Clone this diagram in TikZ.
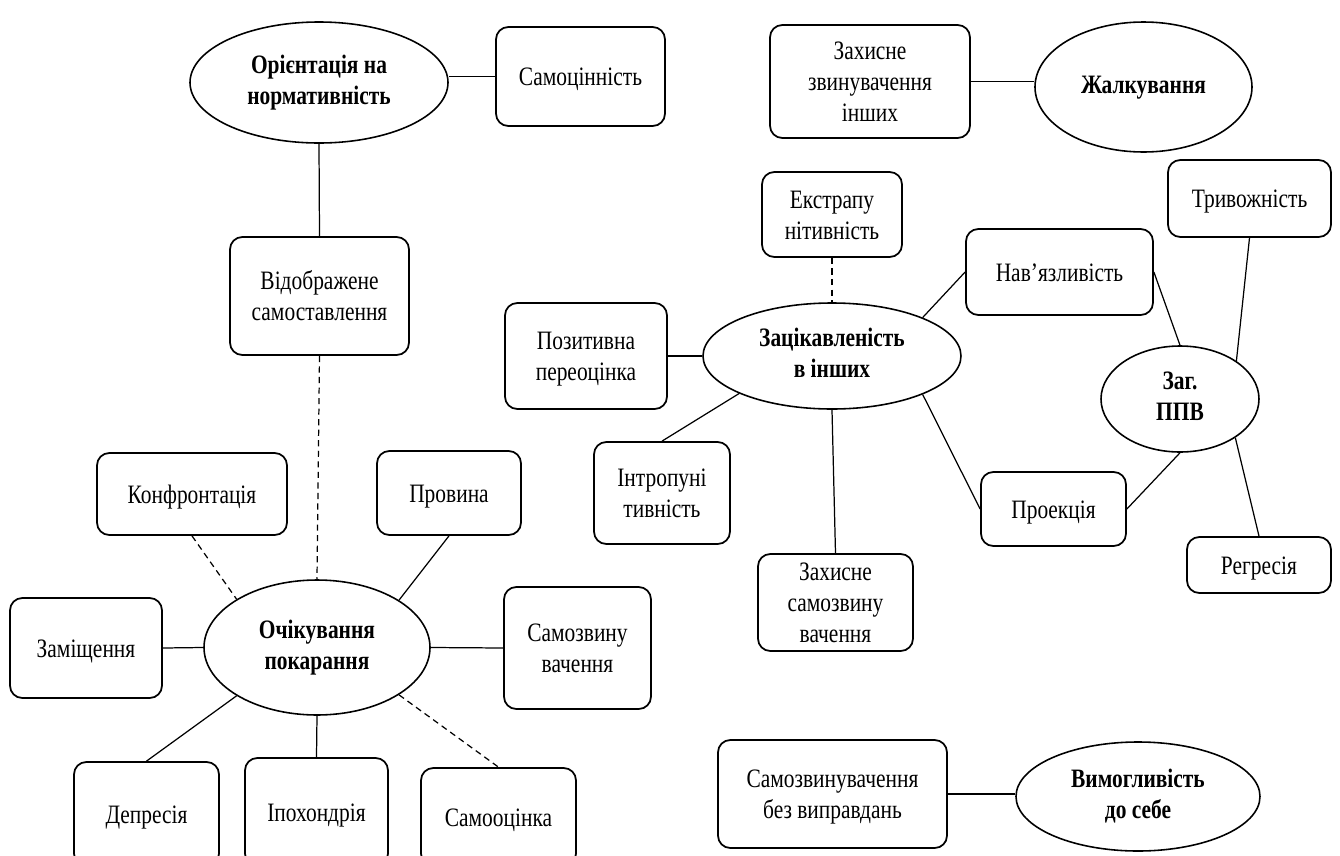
\documentclass[tikz,border=0pt]{standalone}
\usepackage{fontspec}
\setmainfont{Liberation Serif}
\usepackage{graphicx}
\usetikzlibrary{shapes.geometric}
\newcommand\tx[1]{\raisebox{-1.7pt}[\height][\depth]{\scalebox{1}[1.24]{\begin{tabular}{@{}c@{}}#1\end{tabular}}}}
\newcommand\txb[1]{\scalebox{1}[1.24]{\bfseries\begin{tabular}{@{}c@{}}#1\end{tabular}}}
\newcommand\bx[6]{\node[rbox, minimum width={(#4-#2)*0.02cm}, minimum height={(#5-#3)*0.02cm}] (#1) at ({(#2+#4)/2},{(#3+#5)/2}) {\tx{#6}};}
\newcommand\el[6]{\node[ell, minimum width={(#4-#2)*0.02cm}, minimum height={(#5-#3)*0.02cm}] (#1) at ({(#2+#4)/2},{(#3+#5)/2}) {\txb{#6}};}
\tikzset{
  rbox/.style={draw, rounded corners=7pt, line width=1pt, inner sep=0pt, font=\fontsize{12.2}{14.2}\selectfont},
  ell/.style={ellipse, draw, line width=0.9pt, inner sep=0pt, font=\fontsize{12.2}{14.2}\selectfont},
  link/.style={line width=0.7pt},
  dlink/.style={line width=0.7pt, dash pattern=on 3.5pt off 2.5pt}
}
\begin{document}
\begin{tikzpicture}[x=0.02cm, y=-0.02cm]
\useasboundingbox (0,0) rectangle (1340,856);
\clip (0,0) rectangle (1340,856);
% nodes
\el{or}{190}{22}{448}{143}{Орієнтація на\\нормативність}
\bx{samoc}{496}{27}{665}{126}{Самоцінність}
\bx{zz}{770}{25}{970}{138}{Захисне\\звинувачення\\інших}
\el{zh}{1035}{22}{1252}{152}{Жалкування}
\bx{vid}{230}{237}{409}{355}{Відображене\\самоставлення}
\bx{ek}{762}{172}{902}{257}{Екстрапу\\нітивність}
\bx{poz}{505}{303}{667}{409}{Позитивна\\переоцінка}
\el{zac}{703}{303}{961}{409}{Зацікавленість\\в інших}
\bx{nav}{966}{229}{1153}{315}{Нав’язливість}
\bx{trv}{1168}{160}{1331}{237}{Тривожність}
\el{ppv}{1101}{346}{1259}{452}{Заг.\\ППВ}
\bx{int}{594}{442}{730}{544}{Інтропуні\\тивність}
\bx{zs}{758}{554}{913}{651}{Захисне\\самозвину\\вачення}
\bx{proj}{981}{472}{1126}{546}{Проекція}
\bx{reg}{1187}{537}{1331}{593}{Регресія}
\bx{conf}{97}{453}{287}{535}{Конфронтація}
\bx{prov}{377}{451}{521}{535}{Провина}
\bx{zam}{10}{598}{162}{698}{Заміщення}
\el{och}{204}{580}{430}{715}{Очікування\\покарання}
\bx{szv}{504}{587}{651}{709}{Самозвину\\вачення}
\bx{dep}{74}{762}{219}{866}{Депресія}
\bx{ipo}{245}{758}{388}{866}{Іпохондрія}
\bx{som}{421}{768}{576}{866}{Самооцінка}
\bx{sz}{718}{740}{947}{848}{Самозвинувачення\\без виправдань}
\el{vm}{1016}{742}{1260}{851}{Вимогливість\\до себе}
% connectors
\draw[link] (samoc.west) -- (samoc.west -| or.east);
\draw[link] (zz.east) -- (zz.east -| zh.west);
\draw[link] (or.south) -- (vid.north);
\draw[dlink] (vid.south) -- (och.north);
\draw[dlink] (ek.south) -- (zac.north);
\draw[link] (poz.east) -- (zac.west);
\draw[link] (zac.23) -- (nav.west);
\draw[link] (zac.202) -- (int.north);
\draw[link] (zac.south) -- (zs.north);
\draw[link] (zac.-23) -- (proj.west);
\draw[link] (nav.east) -- (ppv.north);
\draw[link] (trv.south) -- (ppv.34);
\draw[link] (ppv.-35) -- (reg.north);
\draw[link] (ppv.south) -- (proj.east);
\draw[dlink] (conf.south) -- (och.149);
\draw[link] (prov.south) -- (och.30);
\draw[link] (zam.east) -- (och.west);
\draw[link] (och.east) -- (szv.west);
\draw[link] (och.211) -- (dep.north);
\draw[link] (och.south) -- (ipo.north);
\draw[dlink] (och.-30) -- (som.north);
\draw[link] (sz.east) -- (sz.east -| vm.west);
\end{tikzpicture}
\end{document}
